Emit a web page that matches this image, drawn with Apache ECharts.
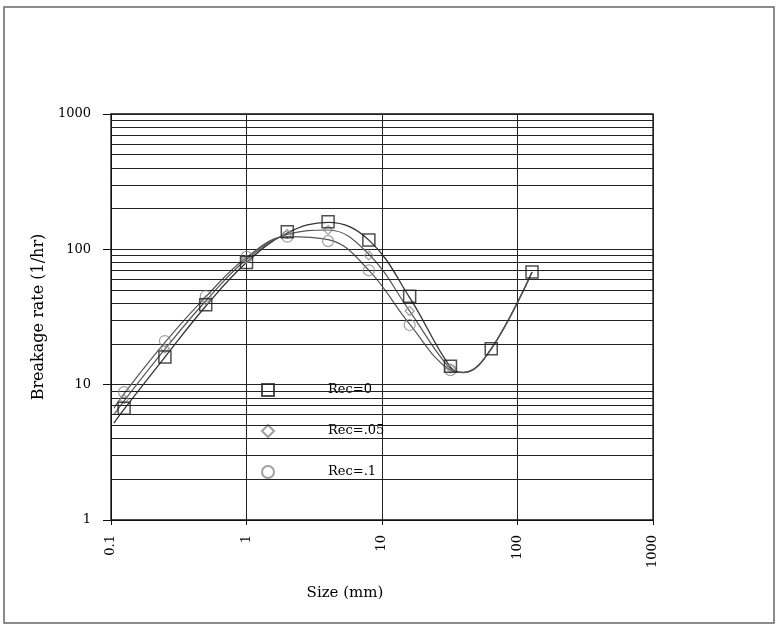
<!DOCTYPE html>
<html><head><meta charset="utf-8">
<script src="https://cdn.jsdelivr.net/npm/echarts@6/dist/echarts.min.js"></script>
<style>html,body{margin:0;padding:0;background:#fff}#c{width:778px;height:627px}</style>
</head><body><div id="c"></div>
<script>
// Marker data (sizes in mm, breakage rate in 1/hr)
const sizes = [0.125, 0.25, 0.5, 1, 2, 4, 8, 16, 32, 64, 128];
const rec0  = [6.7, 16, 39, 80, 135, 160, 117, 45, 13.7, 18.4, 68];
const rec05 = [7.8, 18.5, 42, 85, 130, 139, 90, 35, 13.2];
const rec1  = [8.8, 21, 45, 88, 124, 115, 70, 27.6, 12.8];
const sizes05 = [0.125, 0.25, 0.5, 1, 2, 4, 8, 16, 32];
// Fitted curves
const fitX    = [0.105, 0.125, 0.25, 0.5, 1, 2, 4, 8, 16, 32, 40, 64, 128];
const fit0    = [5.2, 6.6, 16, 38, 80, 132, 158, 117, 44, 13.5, 12.3, 18.4, 68];
const fit05   = [6.0, 7.6, 18.3, 41.5, 84, 129, 139, 92, 35, 13.1, 12.3, 18.4, 68];
const fit1    = [6.7, 8.6, 20.5, 44.5, 87, 124, 118, 70, 28, 12.8, 12.3, 18.4, 68];
const minorY = [2,3,4,5,6,7,8,9,20,30,40,50,60,70,80,90,200,300,400,500,600,700,800,900];
const names = ['Rec=0', 'Rec=.05', 'Rec=.1'];

const font = 'DejaVu Serif';
const pair = (xs, ys) => ys.map((v, i) => [xs[i], v]);
const fmt = v => String(v);

const chart = echarts.init(document.getElementById('c'));
chart.setOption({
  animation: false,
  backgroundColor: '#fff',
  graphic: [{type: 'rect', shape: {x: 4, y: 7, width: 770, height: 616}, style: {fill: 'none', stroke: '#666', lineWidth: 1.5}, silent: true}],
  grid: {left: 111, right: 125, top: 114, bottom: 107, show: true, borderColor: '#111', borderWidth: 1.3},
  legend: {
    orient: 'vertical', left: 256, top: 378, itemGap: 27, itemWidth: 12, itemHeight: 12,
    data: names,
    textStyle: {fontFamily: font, fontSize: 13, color: '#000', padding: [0, 0, 0, 49]}
  },
  xAxis: {
    type: 'log', logBase: 10, min: 0.1, max: 1000,
    name: 'Size (mm)', nameLocation: 'middle', nameGap: 66,
    nameTextStyle: {fontFamily: font, fontSize: 15, color: '#000', padding: [0, 74, 0, 0]},
    axisLine: {lineStyle: {color: '#111'}},
    axisTick: {show: true, length: 5, lineStyle: {color: '#111'}},
    axisLabel: {rotate: 90, fontFamily: font, fontSize: 13, color: '#000', margin: 15, formatter: fmt},
    splitLine: {show: true, lineStyle: {color: '#222', width: 1}}
  },
  yAxis: {
    type: 'log', logBase: 10, min: 1, max: 1000,
    name: 'Breakage rate (1/hr)', nameLocation: 'middle', nameGap: 62,
    nameTextStyle: {fontFamily: font, fontSize: 16, color: '#000'},
    axisLine: {lineStyle: {color: '#111'}},
    axisTick: {show: true, length: 8, lineStyle: {color: '#111'}},
    axisLabel: {fontFamily: font, fontSize: 13, color: '#000', margin: 20, formatter: fmt},
    splitLine: {show: true, lineStyle: {color: '#222', width: 1.2}}
  },
  series: [
    {type: 'line', name: 'fit0', data: pair(fitX, fit0), smooth: 0.4, symbol: 'none',
      lineStyle: {color: '#333', width: 1.3}, z: 3, silent: true,
      markLine: {silent: true, symbol: ['none', 'none'], label: {show: false},
        lineStyle: {color: '#222', width: 1.2, type: 'solid'},
        data: minorY.map(v => ({yAxis: v}))}},
    {type: 'line', name: 'fit05', data: pair(fitX, fit05), smooth: 0.4, symbol: 'none',
      lineStyle: {color: '#555', width: 1.2}, z: 3, silent: true},
    {type: 'line', name: 'fit1', data: pair(fitX, fit1), smooth: 0.4, symbol: 'none',
      lineStyle: {color: '#555', width: 1.2}, z: 3, silent: true},
    {type: 'scatter', name: names[0], data: pair(sizes, rec0), symbol: 'rect', symbolSize: 12, z: 6,
      itemStyle: {color: 'rgba(255,255,255,0)', borderColor: '#222', borderWidth: 1.5}},
    {type: 'scatter', name: names[1], data: pair(sizes05, rec05), symbol: 'diamond', symbolSize: 9, z: 5,
      itemStyle: {color: 'rgba(255,255,255,0)', borderColor: '#888', borderWidth: 1.2}},
    {type: 'scatter', name: names[2], data: pair(sizes05, rec1), symbol: 'circle', symbolSize: 11, z: 5,
      itemStyle: {color: 'rgba(255,255,255,0)', borderColor: '#888', borderWidth: 1.2}}
  ]
});
</script></body></html>
